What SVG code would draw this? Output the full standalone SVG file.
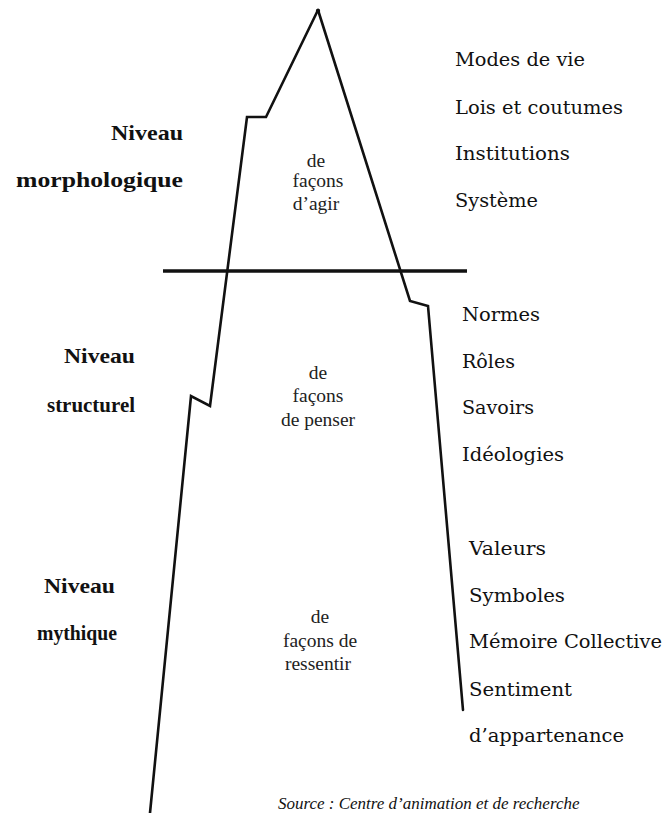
<svg xmlns="http://www.w3.org/2000/svg" width="667" height="813" viewBox="0 0 667 813">
<style>
.outline{fill:none;stroke:#111;stroke-width:2.6;stroke-linejoin:miter;stroke-linecap:round}
.sea{stroke:#111;stroke-width:3.6;stroke-linecap:butt}
.item{font-family:"DejaVu Serif","Liberation Serif",serif;font-size:18.5px;fill:#111}
.lvl{font-family:"Liberation Serif","DejaVu Serif",serif;font-size:21px;font-weight:bold;fill:#111;text-anchor:end}
.mid{font-family:"Liberation Serif","DejaVu Serif",serif;font-size:19.5px;fill:#222;text-anchor:middle}
.src{font-family:"Liberation Serif","DejaVu Serif",serif;font-size:17px;font-style:italic;fill:#111}
</style>
<rect width="667" height="813" fill="#fff"/>
<g id="connectors">
  <path id="iceberg-left" class="outline" d="M318,10 L266,117 L247,117 L210,406 L191,396 L150,813"/>
  <path id="iceberg-right" class="outline" d="M318,10 L410,301 L428,306 L463,710"/>
  <circle cx="318" cy="11" r="2.2" fill="#111"/>
  <line id="waterline" class="sea" x1="163" y1="271" x2="467" y2="271"/>
</g>
<g id="level-morphologique">
  <text class="lvl" x="183" y="140" textLength="72" lengthAdjust="spacingAndGlyphs">Niveau</text>
  <text class="lvl" x="183" y="187" textLength="167" lengthAdjust="spacingAndGlyphs">morphologique</text>
</g>
<g id="level-structurel">
  <text class="lvl" x="135" y="363" textLength="71" lengthAdjust="spacingAndGlyphs">Niveau</text>
  <text class="lvl" x="135" y="412" textLength="88" lengthAdjust="spacingAndGlyphs">structurel</text>
</g>
<g id="level-mythique">
  <text class="lvl" x="115" y="593" textLength="71" lengthAdjust="spacingAndGlyphs">Niveau</text>
  <text class="lvl" x="117" y="640" textLength="80" lengthAdjust="spacingAndGlyphs">mythique</text>
</g>
<g id="center-agir">
  <text class="mid" x="316" y="167">de</text>
  <text class="mid" x="318" y="187">façons</text>
  <text class="mid" x="316" y="210">d’agir</text>
</g>
<g id="center-penser">
  <text class="mid" x="318" y="379">de</text>
  <text class="mid" x="318" y="402">façons</text>
  <text class="mid" x="318" y="426">de penser</text>
</g>
<g id="center-ressentir">
  <text class="mid" x="320" y="623">de</text>
  <text class="mid" x="320" y="647">façons de</text>
  <text class="mid" x="318" y="670">ressentir</text>
</g>
<g id="items-morphologique">
  <text class="item" x="455" y="66" textLength="130" lengthAdjust="spacingAndGlyphs">Modes de vie</text>
  <text class="item" x="455" y="114" textLength="168" lengthAdjust="spacingAndGlyphs">Lois et coutumes</text>
  <text class="item" x="455" y="160" textLength="115" lengthAdjust="spacingAndGlyphs">Institutions</text>
  <text class="item" x="455" y="207" textLength="83" lengthAdjust="spacingAndGlyphs">Système</text>
</g>
<g id="items-structurel">
  <text class="item" x="462" y="321" textLength="78" lengthAdjust="spacingAndGlyphs">Normes</text>
  <text class="item" x="462" y="368" textLength="53" lengthAdjust="spacingAndGlyphs">Rôles</text>
  <text class="item" x="462" y="414" textLength="72" lengthAdjust="spacingAndGlyphs">Savoirs</text>
  <text class="item" x="462" y="461" textLength="102" lengthAdjust="spacingAndGlyphs">Idéologies</text>
</g>
<g id="items-mythique">
  <text class="item" x="469" y="555" textLength="77" lengthAdjust="spacingAndGlyphs">Valeurs</text>
  <text class="item" x="469" y="602" textLength="96" lengthAdjust="spacingAndGlyphs">Symboles</text>
  <text class="item" x="469" y="648" textLength="193" lengthAdjust="spacingAndGlyphs">Mémoire Collective</text>
  <text class="item" x="469" y="696" textLength="103" lengthAdjust="spacingAndGlyphs">Sentiment</text>
  <text class="item" x="469" y="742" textLength="155" lengthAdjust="spacingAndGlyphs">d’appartenance</text>
</g>
<g id="source">
  <text class="src" x="278" y="809">Source : Centre d’animation et de recherche</text>
</g>
</svg>
